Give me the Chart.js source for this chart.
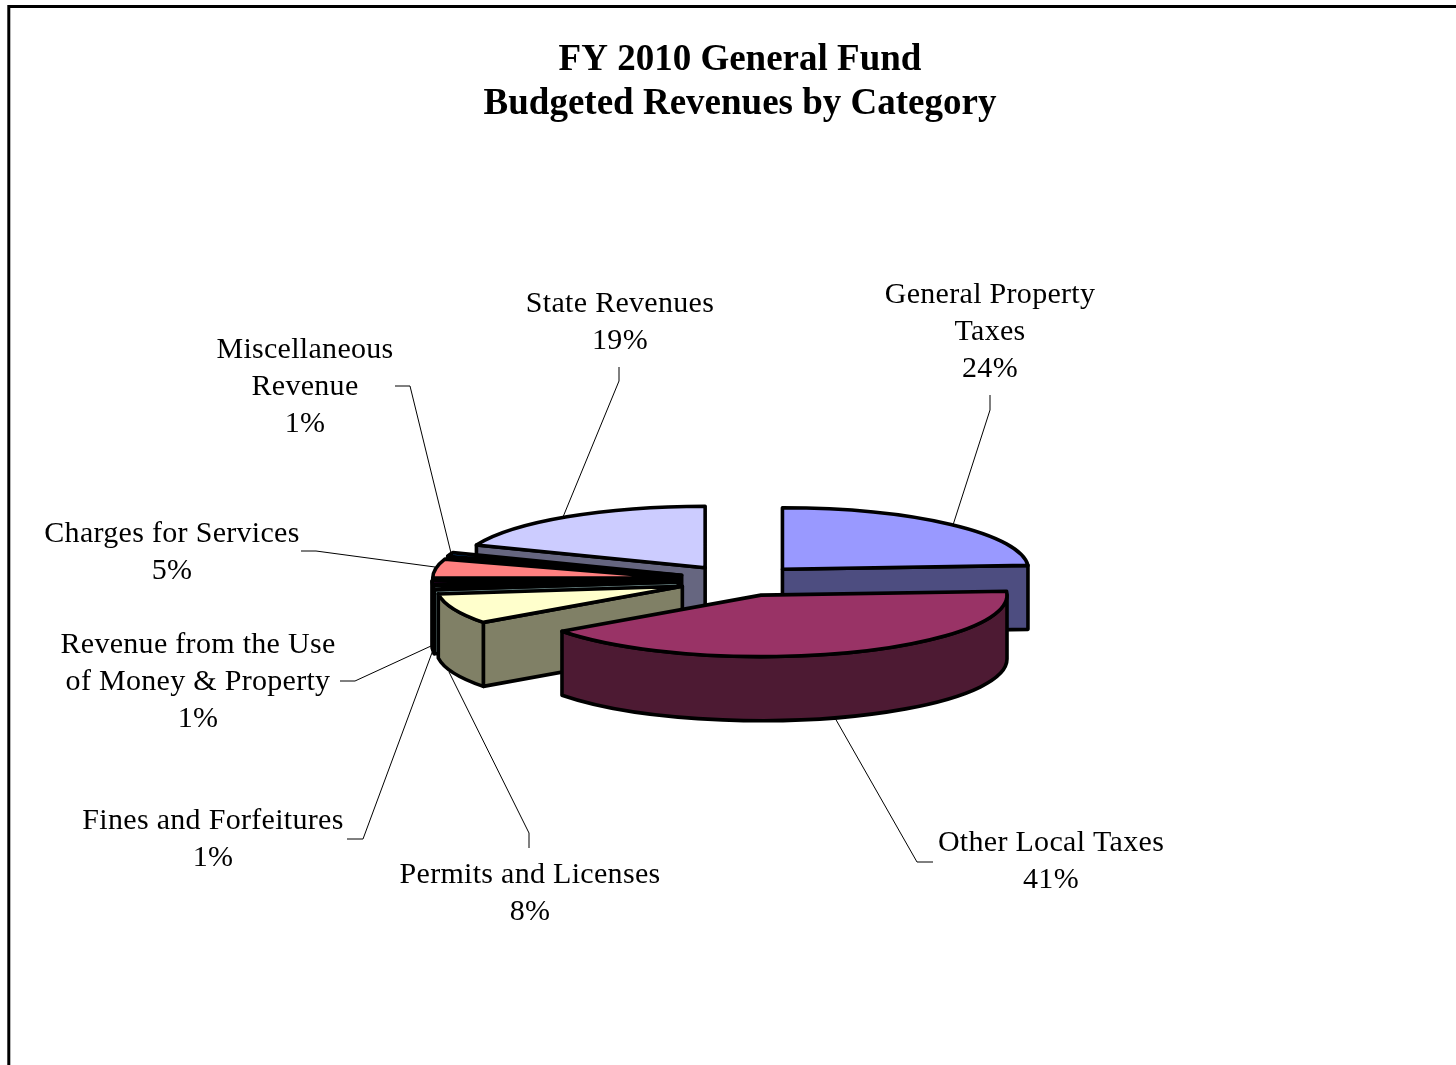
<!DOCTYPE html>
<html>
<head>
<meta charset="utf-8">
<title>FY 2010 General Fund</title>
<script src="https://cdn.jsdelivr.net/npm/chart.js@4/dist/chart.umd.min.js"></script>
<style>
  html, body { margin: 0; padding: 0; background: #fff; overflow: hidden; }
  canvas { display: block; }
</style>
</head>
<body>
<canvas id="revenueChart" width="1456" height="1065"></canvas>
<script>
var categories = ['General Property Taxes', 'Other Local Taxes', 'Permits and Licenses', 'Fines and Forfeitures',
  'Revenue from the Use of Money & Property', 'Charges for Services', 'Miscellaneous Revenue', 'State Revenues'];
var percents = [24, 41, 8, 1, 1, 5, 1, 19];
var topColors = ['#9999FF', '#993366', '#FFFFCC', '#CCFFFF', '#660066', '#FF8080', '#0066CC', '#CCCCFF'];
var sideColors = ['#4D4D80', '#4D1A33', '#808066', '#668080', '#330033', '#804040', '#003366', '#666680'];
var titleLines = ['FY 2010 General Fund', 'Budgeted Revenues by Category'];

// wrapped label text, one list of lines per category
var labelLines = [
  ['General Property', 'Taxes'],
  ['Other Local Taxes'],
  ['Permits and Licenses'],
  ['Fines and Forfeitures'],
  ['Revenue from the Use', 'of Money & Property'],
  ['Charges for Services'],
  ['Miscellaneous', 'Revenue'],
  ['State Revenues']
];
// centre x and first baseline of each label
var labelSpots = [[990, 303], [1051, 851], [530, 883], [213, 829], [198, 653], [172, 542], [305, 358], [620, 312]];
// callout lines
var leaders = [
  [[990, 395], [990, 410], [953, 525]],
  [[933, 862], [917, 862], [835, 718]],
  [[529, 848], [529, 833], [449, 672]],
  [[347, 839], [363, 839], [433, 650]],
  [[340, 681], [355, 681], [431, 646]],
  [[301, 551], [316, 551], [435, 567]],
  [[395, 386], [410, 386], [451, 553]],
  [[619, 367], [619, 381], [563, 517]]
];

var tilt = 0.25;      // vertical squash of the pie
var depth = 64;       // height of the side walls
var explode = 62;     // how far slices are pulled out
var edgeWidth = 3.6;
var labelFont = '30px "Liberation Serif"';
var lineGap = 37;

// where a slice's tip ends up after pulling it out
function tipOf(el) {
  var mid = (el.startAngle + el.endAngle) / 2;
  return { x: el.x + Math.cos(mid) * explode, y: el.y + Math.sin(mid) * explode * tilt };
}

function rimPoint(tip, el, angle) {
  return { x: tip.x + Math.cos(angle) * el.outerRadius, y: tip.y + Math.sin(angle) * el.outerRadius * tilt };
}

function paintPath(ctx, fill) {
  ctx.fillStyle = fill;
  ctx.fill();
  ctx.stroke();
}

// flat cut face going from the tip out to the rim
function drawFace(ctx, tip, rim, fill) {
  ctx.beginPath();
  ctx.moveTo(tip.x, tip.y);
  ctx.lineTo(rim.x, rim.y);
  ctx.lineTo(rim.x, rim.y + depth);
  ctx.lineTo(tip.x, tip.y + depth);
  ctx.closePath();
  paintPath(ctx, fill);
}

// curved outer wall, only the part facing the viewer
function drawRim(ctx, tip, el, fill) {
  var from = Math.max(el.startAngle, 0);
  var to = Math.min(el.endAngle, Math.PI);
  if (to <= from) return;
  var r = el.outerRadius;
  ctx.beginPath();
  ctx.ellipse(tip.x, tip.y, r, r * tilt, 0, from, to);
  ctx.ellipse(tip.x, tip.y + depth, r, r * tilt, 0, to, from, true);
  ctx.closePath();
  paintPath(ctx, fill);
}

function drawSlice(ctx, el, index) {
  var tip = tipOf(el);
  var r = el.outerRadius;
  ctx.save();
  ctx.strokeStyle = '#000';
  ctx.lineWidth = edgeWidth;
  ctx.lineJoin = 'round';

  // a cut face only shows when it turns toward the viewer
  if (Math.cos(el.startAngle) < -1e-6) drawFace(ctx, tip, rimPoint(tip, el, el.startAngle), sideColors[index]);
  if (Math.cos(el.endAngle) > 1e-6) drawFace(ctx, tip, rimPoint(tip, el, el.endAngle), sideColors[index]);
  drawRim(ctx, tip, el, sideColors[index]);

  // the top is the library's own arc, squashed and moved out
  ctx.save();
  ctx.translate(tip.x, tip.y);
  ctx.scale(1, tilt);
  ctx.translate(-el.x, -el.y);
  el.draw(ctx);
  ctx.restore();

  ctx.beginPath();
  ctx.moveTo(tip.x, tip.y);
  ctx.ellipse(tip.x, tip.y, r, r * tilt, 0, el.startAngle, el.endAngle);
  ctx.closePath();
  ctx.stroke();
  ctx.restore();
}

var pie3d = {
  id: 'pie3d',
  beforeDraw: function (chart) {
    // page frame, runs off the right and bottom
    var ctx = chart.ctx;
    ctx.save();
    ctx.strokeStyle = '#000';
    ctx.lineWidth = 3;
    ctx.beginPath();
    ctx.moveTo(8.8, 1070);
    ctx.lineTo(8.8, 6.5);
    ctx.lineTo(1460, 6.5);
    ctx.stroke();
    ctx.restore();
  },
  beforeDatasetDraw: function (chart, args) {
    // back slices first, so nearer ones cover them
    var arcs = args.meta.data;
    var order = arcs.map(function (el, i) { return i; });
    order.sort(function (a, b) {
      return Math.sin((arcs[a].startAngle + arcs[a].endAngle) / 2) - Math.sin((arcs[b].startAngle + arcs[b].endAngle) / 2);
    });
    order.forEach(function (i) { drawSlice(chart.ctx, arcs[i], i); });
    return false;
  },
  afterDraw: function (chart) {
    var ctx = chart.ctx;
    ctx.save();
    ctx.strokeStyle = '#000';
    ctx.lineWidth = 1;
    leaders.forEach(function (pts) {
      ctx.beginPath();
      pts.forEach(function (p, i) {
        if (i === 0) ctx.moveTo(p[0], p[1]); else ctx.lineTo(p[0], p[1]);
      });
      ctx.stroke();
    });
    ctx.fillStyle = '#000';
    ctx.font = labelFont;
    ctx.letterSpacing = '0.3px';
    ctx.textAlign = 'center';
    ctx.textBaseline = 'alphabetic';
    labelLines.forEach(function (lines, i) {
      var all = lines.concat(percents[i] + '%');
      all.forEach(function (text, n) {
        ctx.fillText(text, labelSpots[i][0], labelSpots[i][1] + n * lineGap);
      });
    });
    ctx.restore();
  }
};

var ctx = document.getElementById('revenueChart').getContext('2d');
var revenueChart = new Chart(ctx, {
  type: 'pie',
  data: {
    labels: categories,
    datasets: [{
      data: percents,
      backgroundColor: topColors,
      borderWidth: 0
    }]
  },
  options: {
    responsive: false,
    animation: false,
    radius: 246,
    layout: { padding: { left: 24, right: 0, top: 0, bottom: 30 } },
    plugins: {
      legend: { display: false },
      tooltip: { enabled: false },
      title: {
        display: true,
        text: titleLines,
        color: '#000',
        font: { family: '"Liberation Serif"', size: 37, weight: 'bold', lineHeight: 1.19 },
        padding: { top: 38, bottom: 0 }
      }
    }
  },
  plugins: [pie3d]
});
</script>
</body>
</html>
